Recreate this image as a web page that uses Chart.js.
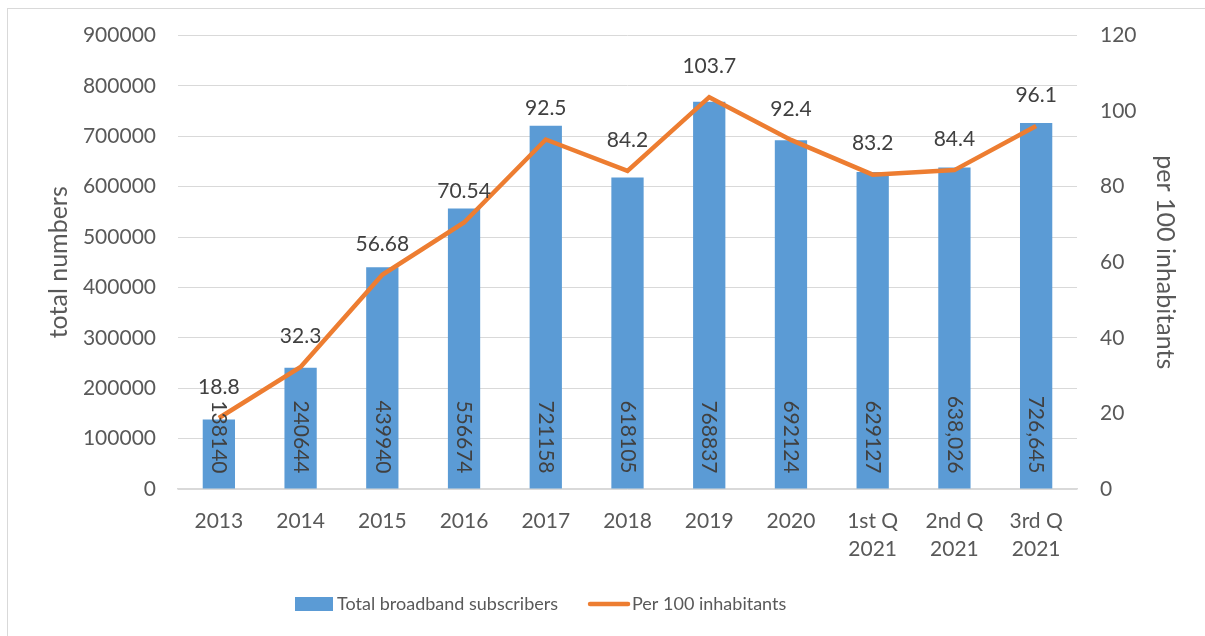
<!DOCTYPE html>
<html>
<head>
<meta charset="utf-8">
<script src="https://cdn.jsdelivr.net/npm/chart.js@4/dist/chart.umd.min.js"></script>
<style>
  body { margin: 0; background: #fff; }
  #marco { position: absolute; left: 7px; top: 8px; width: 1300px; height: 700px;
           border-left: 1px solid #d9d9d9; border-top: 1px solid #d9d9d9; }
  #lienzo { position: absolute; left: 0; top: 0; width: 1205px; height: 636px; }
</style>
</head>
<body>
<div id="marco"></div>
<div id="lienzo"><canvas id="myChart" width="1205" height="636"></canvas></div>
<script>
// datos
const categorias = ["2013", "2014", "2015", "2016", "2017", "2018", "2019", "2020",
  ["1st Q", "2021"], ["2nd Q", "2021"], ["3rd Q", "2021"]];
const suscriptores = [138140, 240644, 439940, 556674, 721158, 618105, 768837, 692124, 629127, 638026, 726645];
const etiquetas_suscriptores = ["138140", "240644", "439940", "556674", "721158", "618105",
  "768837", "692124", "629127", "638,026", "726,645"];
const por_100 = [18.8, 32.3, 56.68, 70.54, 92.5, 84.2, 103.7, 92.4, 83.2, 84.4, 96.1];
const etiquetas_por_100 = ["18.8", "32.3", "56.68", "70.54", "92.5", "84.2", "103.7",
  "92.4", "83.2", "84.4", "96.1"];
const ticks_izq = [0, 100000, 200000, 300000, 400000, 500000, 600000, 700000, 800000, 900000];
const ticks_der = [0, 20, 40, 60, 80, 100, 120];
const nombre_barras = "Total broadband subscribers";
const nombre_linea = "Per 100 inhabitants";
const titulo_izq = "total numbers";
const titulo_der = "per 100 inhabitants";

const color_barras = "#5B9BD5";
const color_linea = "#ED7D31";
const fuente = "Lato, 'Open Sans', sans-serif";
const myChart = document.getElementById("myChart");

// etiquetas de datos: numeros girados dentro de las barras, valores sobre la linea
const etiquetas_plugin = {
  id: "etiquetas_datos",
  afterDatasetsDraw(chart) {
    const ctx = chart.ctx;
    ctx.save();
    ctx.fillStyle = "#404040";
    ctx.font = "21px " + fuente;
    const barras = chart.getDatasetMeta(0).data;
    barras.forEach((el, i) => {
      ctx.save();
      ctx.translate(el.x, el.base - 15);
      ctx.rotate(Math.PI / 2);
      ctx.textAlign = "right";
      ctx.textBaseline = "middle";
      ctx.fillText(etiquetas_suscriptores[i], 0, 0);
      ctx.restore();
    });
    const puntos = chart.getDatasetMeta(1).data;
    puntos.forEach((el, i) => {
      ctx.textAlign = "center";
      ctx.textBaseline = "middle";
      ctx.fillText(etiquetas_por_100[i], el.x, el.y - 31);
    });
    ctx.restore();
  }
};

// leyenda dibujada a mano (en el original no esta centrada)
const leyenda_plugin = {
  id: "leyenda_manual",
  afterDraw(chart) {
    const ctx = chart.ctx;
    const y = 604;
    let x = 295;
    ctx.save();
    ctx.font = "18px " + fuente;
    ctx.textBaseline = "middle";
    ctx.textAlign = "left";
    // barras
    ctx.fillStyle = color_barras;
    ctx.fillRect(x, y - 7, 38, 14);
    x += 38 + 4;
    ctx.fillStyle = "#595959";
    ctx.fillText(nombre_barras, x, y);
    x += ctx.measureText(nombre_barras).width + 30;
    // linea
    ctx.strokeStyle = color_linea;
    ctx.lineWidth = 4.5;
    ctx.lineCap = "round";
    ctx.beginPath();
    ctx.moveTo(x + 2, y);
    ctx.lineTo(x + 40, y);
    ctx.stroke();
    x += 44;
    ctx.fillText(nombre_linea, x, y);
    ctx.restore();
  }
};

const config = {
  data: {
    labels: categorias,
    datasets: [
      {
        type: "bar",
        label: nombre_barras,
        data: suscriptores,
        backgroundColor: color_barras,
        yAxisID: "y",
        barPercentage: 0.395,
        categoryPercentage: 1,
        order: 2
      },
      {
        type: "line",
        label: nombre_linea,
        data: por_100,
        borderColor: color_linea,
        backgroundColor: color_linea,
        borderWidth: 4.5,
        pointRadius: 0,
        tension: 0,
        yAxisID: "y1",
        order: 1
      }
    ]
  },
  options: {
    responsive: false,
    animation: false,
    layout: { padding: { left: 38, right: 18, top: 32, bottom: 72 } },
    plugins: {
      tooltip: { enabled: false },
      legend: { display: false }
    },
    scales: {
      x: {
        grid: { display: false },
        border: { color: "#d9d9d9", width: 1.5 },
        ticks: { color: "#595959", padding: 10, maxRotation: 0,
                 font: { family: fuente, size: 21, lineHeight: 1.333 } },
        afterFit(scale) { scale.height = 75; }
      },
      y: {
        position: "left",
        min: 0,
        max: 900000,
        afterBuildTicks(scale) { scale.ticks = ticks_izq.map((v) => ({ value: v })); },
        ticks: { padding: 22, color: "#595959", font: { family: fuente, size: 21 },
                 callback: (v) => String(v) },
        grid: { color: "#d9d9d9", lineWidth: 1, drawTicks: false },
        border: { display: false },
        title: { display: true, text: titulo_izq, color: "#595959", padding: { top: 6, bottom: 0 },
                 font: { family: fuente, size: 25 } },
        afterFit(scale) { scale.width = 140; }
      },
      y1: {
        position: "right",
        min: 0,
        max: 120,
        afterBuildTicks(scale) { scale.ticks = ticks_der.map((v) => ({ value: v })); },
        ticks: { padding: 23, color: "#595959", font: { family: fuente, size: 21 },
                 callback: (v) => String(v) },
        grid: { display: false, drawTicks: false },
        border: { display: false },
        title: { display: true, text: titulo_der, color: "#595959", padding: { top: 7, bottom: 0 },
                 font: { family: fuente, size: 25 } },
        afterFit(scale) { scale.width = 110; }
      }
    }
  },
  plugins: [etiquetas_plugin, leyenda_plugin]
};

new Chart(myChart, config);
</script>
</body>
</html>
